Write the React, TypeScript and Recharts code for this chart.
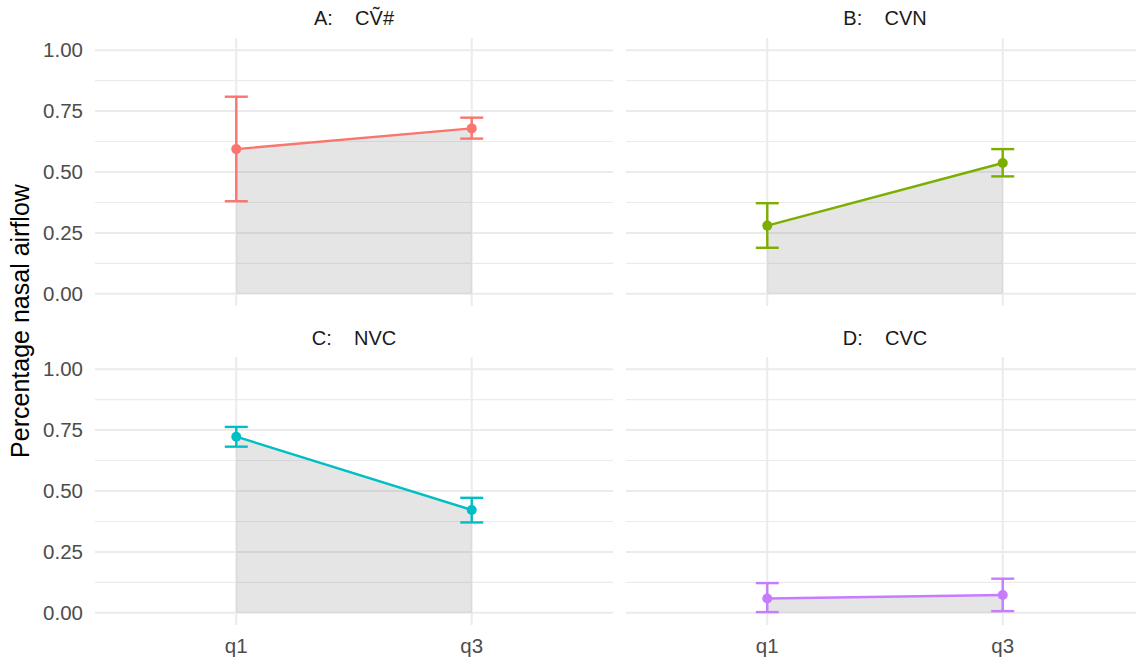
import React from 'react';
import { ComposedChart, Line, Area, XAxis, YAxis, CartesianGrid, ErrorBar } from 'recharts';

const categories = ['q1', 'q3'];
const panelTitles = ['A:    C\u1E7C#', 'B:    CVN', 'C:    NVC', 'D:    CVC'];
const panelColors = ['#F8766D', '#7CAE00', '#00BFC4', '#C77CFF'];

const meanA = [0.594, 0.679];
const meanB = [0.280, 0.537];
const meanC = [0.723, 0.422];
const meanD = [0.059, 0.073];

const lowA = [0.380, 0.637];
const lowB = [0.189, 0.482];
const lowC = [0.682, 0.371];
const lowD = [0.003, 0.007];

const highA = [0.809, 0.723];
const highB = [0.372, 0.594];
const highC = [0.763, 0.472];
const highD = [0.122, 0.140];

const yTicks = [0, 0.25, 0.5, 0.75, 1];
const yMinorTicks = [0.125, 0.375, 0.625, 0.875];

const means = [meanA, meanB, meanC, meanD];
const lows = [lowA, lowB, lowC, lowD];
const highs = [highA, highB, highC, highD];

const FONT = '"Liberation Sans", Arial, Helvetica, sans-serif';

const buildData = (i: number) =>
  categories.map((cat, j) => ({
    x: j + 1,
    name: cat,
    value: means[i][j],
    err: [means[i][j] - lows[i][j], highs[i][j] - means[i][j]],
  }));

// panel geometry (ggplot facet_wrap 2x2 layout)
const PLOT_W = 518;
const PLOT_H = 268;
const LEFT_X = 95;
const RIGHT_X = 626;
const TOP_Y = 38;
const BOTTOM_Y = 357;
const AXIS_W = 95;
const XAXIS_H = 35;

const Panel: React.FC<{ i: number }> = ({ i }) => {
  const col = i % 2;
  const row = Math.floor(i / 2);
  const showY = col === 0;
  const showX = row === 1;
  const color = panelColors[i];
  const width = PLOT_W + (showY ? AXIS_W : 0);
  const height = PLOT_H + (showX ? XAXIS_H : 0);
  const left = col === 0 ? LEFT_X - AXIS_W : RIGHT_X;
  const top = row === 0 ? TOP_Y : BOTTOM_Y;

  return (
    <div style={{ position: 'absolute', left, top }}>
      <ComposedChart width={width} height={height} data={buildData(i)} margin={{ top: 0, right: 0, bottom: 0, left: 0 }}>
        <CartesianGrid horizontal vertical={false} horizontalValues={yMinorTicks} stroke="#ebebeb" strokeWidth={1.1} />
        <CartesianGrid horizontal vertical horizontalValues={yTicks} verticalValues={[1, 2]} stroke="#ebebeb" strokeWidth={2} />
        <XAxis
          type="number"
          dataKey="x"
          domain={[0.4, 2.6]}
          ticks={[1, 2]}
          tickFormatter={(v: number) => categories[v - 1]}
          hide={!showX}
          height={XAXIS_H}
          axisLine={false}
          tickLine={false}
          tickSize={0}
          tickMargin={13}
          tick={{ fontSize: 20.5, fill: '#4d4d4d', fontFamily: FONT }}
        />
        <YAxis
          type="number"
          domain={[-0.05, 1.05]}
          ticks={yTicks}
          allowDataOverflow
          tickFormatter={(v: number) => v.toFixed(2)}
          hide={!showY}
          width={AXIS_W}
          axisLine={false}
          tickLine={false}
          tickSize={0}
          tickMargin={12}
          tick={{ fontSize: 20.5, fill: '#4d4d4d', fontFamily: FONT }}
        />
        <Area
          type="linear"
          dataKey="value"
          baseValue={0}
          fill="#7f7f7f"
          fillOpacity={0.2}
          stroke="none"
          isAnimationActive={false}
        />
        <Line
          type="linear"
          dataKey="value"
          stroke={color}
          strokeWidth={2.4}
          dot={{ r: 5, fill: color, stroke: color, strokeWidth: 0 }}
          activeDot={false}
          isAnimationActive={false}
        >
          <ErrorBar dataKey="err" direction="y" width={11.5} stroke={color} strokeWidth={2.4} />
        </Line>
      </ComposedChart>
    </div>
  );
};

const App: React.FC = () => {
  const stripX = [(LEFT_X + LEFT_X + PLOT_W) / 2, (RIGHT_X + RIGHT_X + PLOT_W) / 2];
  const stripY = [25, 345];
  return (
    <div style={{ position: 'absolute', left: 0, top: 0, width: 1136, height: 660, overflow: 'hidden', background: '#fff', fontFamily: FONT }}>
      {[0, 1, 2, 3].map(i => (
        <Panel key={i} i={i} />
      ))}
      <svg width={1136} height={660} style={{ position: 'absolute', left: 0, top: 0, pointerEvents: 'none' }}>
        {panelTitles.map((t, i) => (
          <text
            key={t}
            x={stripX[i % 2]}
            y={stripY[Math.floor(i / 2)]}
            textAnchor="middle"
            fontSize={20}
            fill="#1a1a1a"
            fontFamily={FONT}
            style={{ whiteSpace: 'pre' }}
          >
            {t}
          </text>
        ))}
        <text
          x={0}
          y={0}
          transform="translate(29, 321) rotate(-90)"
          textAnchor="middle"
          fontSize={25}
          fill="#000"
          fontFamily={FONT}
        >
          Percentage nasal airflow
        </text>
      </svg>
    </div>
  );
};

export default App;
